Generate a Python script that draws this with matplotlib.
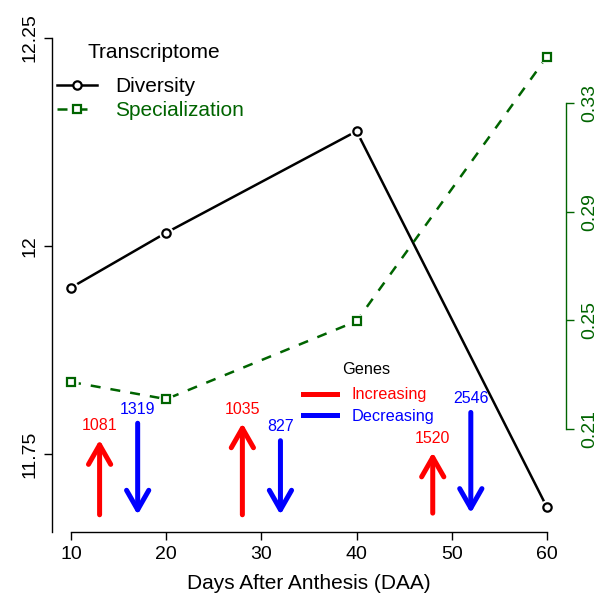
import matplotlib
matplotlib.use('Agg')
import matplotlib.pyplot as plt
from matplotlib.lines import Line2D

plt.rcParams['font.family'] = ['Liberation Sans', 'DejaVu Sans']

# ---- data ----
days = [10, 20, 40, 60]
diversity = [11.950, 12.016, 12.138, 11.686]
specialization = [0.2273, 0.2210, 0.2497, 0.3470]

up_days = [13, 28, 48]
up_base = [11.677, 11.677, 11.679]
up_tip = [11.767, 11.787, 11.752]
up_counts = [1081, 1035, 1520]

down_days = [17, 32, 52]
down_top = [11.787, 11.766, 11.800]
down_tip = [11.677, 11.677, 11.679]
down_counts = [1319, 827, 2546]

x_ticks = [10, 20, 30, 40, 50, 60]
left_ticks = [11.75, 12.0, 12.25]
left_labels = ['11.75', '12', '12.25']
right_ticks = [0.21, 0.25, 0.29, 0.33]
right_labels = ['0.21', '0.25', '0.29', '0.33']

GREEN = '#006400'
RED = '#FF0000'
BLUE = '#0000FF'

fig = plt.figure(figsize=(6, 6), dpi=100)
ax = fig.add_axes([52/600, 68/600, 514/600, 494/600])
ax.set_xlim(8, 62)
ax.set_ylim(11.6563, 12.25)
ax2 = ax.twinx()
ax2.set_ylim(0.1721, 0.3539)

# lines (type "b": gaps around points)
l1, = ax.plot(days, diversity, color='black', lw=1.8, zorder=3)
ax.plot(days, diversity, ls='none', marker='o', ms=10.5, mfc='white', mec='none', zorder=3.5)
ax.plot(days, diversity, ls='none', marker='o', ms=6, mfc='white', mec='black',
        mew=1.6, zorder=4)
l2, = ax2.plot(days, specialization, color=GREEN, lw=1.8, ls=(0, (4, 4)), zorder=3)
ax2.plot(days, specialization, ls='none', marker='o', ms=10.5, mfc='white', mec='none',
         zorder=3.5)
ax2.plot(days, specialization, ls='none', marker='s', ms=6, mfc='white', mec=GREEN,
         mew=1.6, zorder=4)

h_div = Line2D([], [], color='black', lw=1.8, marker='o', ms=6, mfc='white',
               mec='black', mew=1.6)
h_spe = Line2D([], [], color=GREEN, lw=1.8, ls=(0, (4, 4)), marker='s', ms=6,
               mfc='white', mec=GREEN, mew=1.6)

# arrows
astyle = '->,head_length=14,head_width=8'
for x, b, t, c in zip(up_days, up_base, up_tip, up_counts):
    ax.annotate('', xy=(x, t), xytext=(x, b),
                arrowprops=dict(arrowstyle=astyle, mutation_scale=1, color=RED,
                                lw=3.6, shrinkA=0, shrinkB=0,
                                capstyle='round', joinstyle='round'))
    ax.text(x, t + 0.017, str(c), ha='center', va='center', color=RED, fontsize=11.5)
for x, t, tip, c in zip(down_days, down_top, down_tip, down_counts):
    ax.annotate('', xy=(x, tip), xytext=(x, t),
                arrowprops=dict(arrowstyle=astyle, mutation_scale=1, color=BLUE,
                                lw=3.6, shrinkA=0, shrinkB=0,
                                capstyle='round', joinstyle='round'))
    ax.text(x, t + 0.017, str(c), ha='center', va='center', color=BLUE, fontsize=11.5)

# spines / ticks
ax.spines['top'].set_visible(False)
ax.spines['right'].set_visible(False)
ax.spines['bottom'].set_bounds(10, 60)
for s in ('top', 'left', 'bottom'):
    ax2.spines[s].set_visible(False)
ax2.spines['right'].set_bounds(0.21, 0.33)
ax2.spines['right'].set_color(GREEN)
for sp in list(ax.spines.values()) + list(ax2.spines.values()):
    sp.set_linewidth(1.0)

ax.set_xticks(x_ticks)
ax.tick_params(axis='x', direction='out', length=5.8, width=1.0, pad=4, labelsize=14)
ax.set_yticks(left_ticks, left_labels)
ax.tick_params(axis='y', direction='out', length=5.8, width=1.0, pad=4, labelsize=14)
for lab in ax.get_yticklabels():
    lab.set_rotation(90)
    lab.set_va('center')
ax2.set_yticks(right_ticks, right_labels)
ax2.tick_params(axis='y', direction='out', length=5.8, width=1.0, pad=5, labelsize=14,
                colors=GREEN)
for lab in ax2.get_yticklabels():
    lab.set_rotation(90)
    lab.set_va('center')

ax.set_xlabel('Days After Anthesis (DAA)', fontsize=15, labelpad=8)

# legends
ax2.text((154-52)/514, (532-53)/494, 'Transcriptome', transform=ax2.transAxes,
         ha='center', va='center', fontsize=15, color='black')
leg1 = ax2.legend(handles=[h_div, h_spe], labels=['Diversity', 'Specialization'],
                  loc='center left', bbox_to_anchor=((57-52)/514, (532-98.5)/494),
                  frameon=False, fontsize=15, handlelength=1.92, handletextpad=0.87,
                  labelspacing=0.22, borderpad=0, borderaxespad=0,
                  labelcolor=['black', GREEN])
ax2.add_artist(leg1)

ax2.text((366-52)/514, (532-369)/494, 'Genes', transform=ax2.transAxes,
         ha='center', va='center', fontsize=11.7, color='black')
h_inc = Line2D([], [], color=RED, lw=3.6)
h_dec = Line2D([], [], color=BLUE, lw=3.6)
leg2 = ax2.legend(handles=[h_inc, h_dec], labels=['Increasing', 'Decreasing'],
                  loc='center left', bbox_to_anchor=((303-52)/514, (532-405.5)/494),
                  frameon=False, fontsize=11.7, handlelength=2.09, handletextpad=0.92,
                  labelspacing=0.4, borderpad=0, borderaxespad=0,
                  labelcolor=[RED, BLUE])

fig.savefig('out.png', dpi=100)
